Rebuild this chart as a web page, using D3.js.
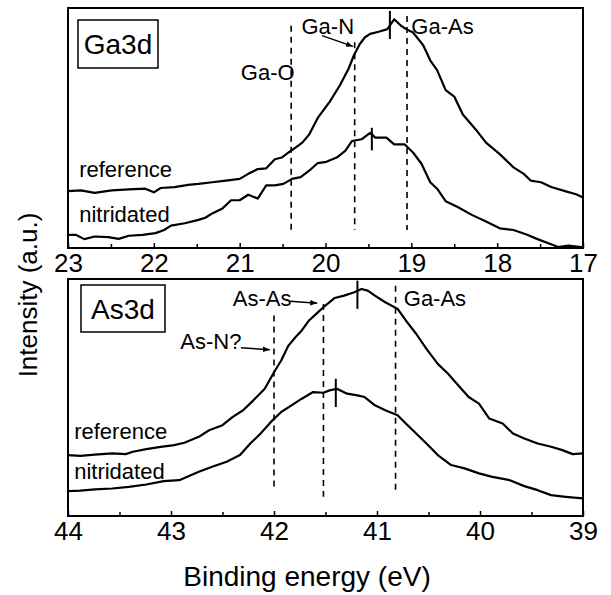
<!DOCTYPE html>
<html>
<head>
<meta charset="utf-8">
<script src="https://cdn.jsdelivr.net/npm/d3@7/dist/d3.min.js"></script>
<style>
  body { margin: 0; background: #fff; }
  svg { display: block; font-family: Arial, "Liberation Sans", sans-serif; }
</style>
</head>
<body>
<svg id="chart" width="611" height="595"></svg>
<script>
// Ga3d panel, binding energy (eV) and intensity (a.u., 0-100 of panel height)
const gaRefE = [23.00, 22.85, 22.69, 22.49, 22.29, 22.10, 22.00, 21.92, 21.76, 21.60, 21.48, 21.32, 21.16, 21.00, 20.90, 20.79, 20.69, 20.59, 20.51, 20.43, 20.35, 20.27, 20.19, 20.09, 19.95, 19.83, 19.73, 19.67, 19.60, 19.54, 19.48, 19.38, 19.28, 19.20, 19.12, 19.06, 18.98, 18.86, 18.78, 18.70, 18.60, 18.50, 18.40, 18.25, 18.13, 17.97, 17.81, 17.69, 17.61, 17.49, 17.37, 17.21, 17.08, 17.00];
const gaRefI = [23.7, 24.0, 23.0, 24.0, 24.4, 24.7, 23.2, 25.0, 25.4, 26.3, 26.7, 27.4, 28.1, 28.8, 30.9, 32.9, 33.2, 37.0, 37.7, 39.8, 41.8, 43.9, 47.3, 54.2, 61.0, 67.9, 74.8, 80.2, 85.0, 87.8, 89.2, 90.1, 91.2, 95.3, 92.6, 91.2, 89.8, 84.4, 78.2, 74.1, 65.8, 63.1, 55.6, 49.4, 43.9, 39.1, 33.6, 30.9, 28.1, 27.4, 25.4, 23.7, 22.4, 21.0];
const gaNitE = [23.00, 22.91, 22.81, 22.69, 22.53, 22.41, 22.29, 22.13, 21.98, 21.88, 21.80, 21.64, 21.48, 21.40, 21.32, 21.20, 21.10, 21.00, 20.90, 20.79, 20.69, 20.59, 20.49, 20.39, 20.29, 20.19, 20.09, 19.99, 19.87, 19.77, 19.69, 19.58, 19.48, 19.42, 19.29, 19.20, 19.08, 18.98, 18.88, 18.78, 18.70, 18.60, 18.46, 18.29, 18.13, 17.97, 17.81, 17.65, 17.53, 17.41, 17.29, 17.17, 17.00];
const gaNitI = [5.5, 5.5, 3.7, 4.8, 4.5, 3.8, 5.1, 5.5, 6.2, 7.5, 9.3, 10.3, 11.7, 12.6, 14.4, 16.5, 19.9, 19.9, 22.2, 20.6, 26.1, 26.1, 26.7, 28.8, 29.5, 32.2, 35.4, 35.9, 37.7, 40.5, 44.6, 45.3, 48.0, 46.0, 46.0, 43.2, 43.2, 39.8, 35.0, 27.4, 24.7, 19.5, 17.1, 13.7, 11.0, 8.2, 7.5, 5.5, 3.7, 2.1, 0.4, 1.0, 0.3];

// As3d panel
const asRefE = [44.00, 43.88, 43.74, 43.57, 43.44, 43.37, 43.24, 43.10, 42.97, 42.87, 42.73, 42.63, 42.50, 42.40, 42.30, 42.20, 42.09, 41.99, 41.93, 41.86, 41.79, 41.73, 41.66, 41.59, 41.52, 41.46, 41.41, 41.32, 41.22, 41.15, 41.09, 41.02, 40.92, 40.80, 40.72, 40.62, 40.52, 40.41, 40.31, 40.21, 40.11, 40.01, 39.91, 39.78, 39.68, 39.57, 39.44, 39.31, 39.20, 39.10, 39.00];
const asRefI = [25.7, 25.4, 25.9, 26.4, 26.1, 27.1, 28.2, 29.2, 29.9, 30.9, 33.4, 36.2, 38.3, 41.8, 44.6, 48.8, 53.7, 61.4, 65.6, 71.9, 75.5, 78.3, 82.5, 85.3, 88.1, 90.2, 92.0, 93.0, 94.4, 95.8, 95.1, 93.0, 90.2, 87.4, 82.5, 76.9, 70.5, 64.2, 60.0, 55.1, 50.2, 47.4, 41.1, 39.0, 34.8, 32.7, 30.6, 29.2, 27.8, 26.1, 26.4];
const asNitE = [44.00, 43.88, 43.74, 43.57, 43.41, 43.24, 43.07, 42.92, 42.73, 42.60, 42.46, 42.33, 42.23, 42.13, 42.03, 41.93, 41.83, 41.73, 41.62, 41.52, 41.46, 41.39, 41.29, 41.19, 41.12, 41.02, 40.92, 40.80, 40.72, 40.62, 40.52, 40.41, 40.28, 40.15, 40.01, 39.88, 39.71, 39.57, 39.44, 39.31, 39.17, 39.00];
const asNitI = [10.5, 10.7, 11.2, 11.6, 12.3, 13.3, 14.7, 15.1, 18.7, 20.8, 22.9, 25.7, 30.6, 34.8, 39.7, 43.9, 46.7, 49.5, 52.3, 52.0, 53.0, 53.7, 51.6, 50.9, 50.2, 46.7, 44.6, 42.5, 39.0, 34.8, 30.6, 25.7, 21.5, 20.1, 18.0, 16.5, 15.1, 12.6, 10.9, 8.8, 8.1, 7.4];

// component positions (eV) and peak maxima (eV)
const gaLines = [20.4, 19.66, 19.05];
const gaLineNames = ["Ga-O", "Ga-N", "Ga-As"];
const gaPeaks = [19.25, 19.46];
const asLines = [42.0, 41.52, 40.82];
const asLineNames = ["As-N?", "As-As", "Ga-As"];
const asPeaks = [41.19, 41.40];

const svg = d3.select("#chart");
const left = 68, right = 583;

svg.append("defs").append("marker")
  .attr("id", "arrow")
  .attr("viewBox", "0 0 10 8")
  .attr("refX", 10).attr("refY", 4)
  .attr("markerWidth", 7).attr("markerHeight", 6)
  .attr("markerUnits", "userSpaceOnUse")
  .attr("orient", "auto")
  .append("path").attr("d", "M0,0L10,4L0,8z").attr("fill", "#000");

const panels = [
  {
    name: "Ga3d", domain: [23, 17], top: 8, bottom: 248,
    ref: d3.zip(gaRefE, gaRefI), nit: d3.zip(gaNitE, gaNitI),
    lines: [
      { e: gaLines[0], y1: 92.6, y2: 7.5 },
      { e: gaLines[1], y1: 85.7, y2: 7.5 },
      { e: gaLines[2], y1: 96.7, y2: 7.5 },
    ],
    labels: [
      { t: gaLineNames[0], e: 20.36, i: 70.0, anchor: "end" },
      { t: gaLineNames[1], e: 20.28, i: 89.2, anchor: "start" },
      { t: gaLineNames[2], e: 19.0, i: 89.2, anchor: "start" },
    ],
    arrows: [{ e1: 20.04, i1: 88.5, e2: 19.68, i2: 84.0 }],
    peaks: [{ e: gaPeaks[0], y1: 98.8, y2: 87.1 }, { e: gaPeaks[1], y1: 50.1, y2: 40.7 }],
    series: [{ t: "reference", e: 22.87, i: 29.5 }, { t: "nitridated", e: 22.87, i: 11.0 }],
    box: { x: 78, y: 20, w: 80, h: 48 },
  },
  {
    name: "As3d", domain: [44, 39], top: 279, bottom: 516,
    ref: d3.zip(asRefE, asRefI), nit: d3.zip(asNitE, asNitI),
    lines: [
      { e: asLines[0], y1: 84.6, y2: 10.9 },
      { e: asLines[1], y1: 89.5, y2: 8.1 },
      { e: asLines[2], y1: 97.2, y2: 10.2 },
    ],
    labels: [
      { t: asLineNames[0], e: 42.91, i: 70.5, anchor: "start" },
      { t: asLineNames[1], e: 42.40, i: 88.8, anchor: "start" },
      { t: asLineNames[2], e: 40.74, i: 88.8, anchor: "start" },
    ],
    arrows: [
      { e1: 42.32, i1: 71.0, e2: 42.04, i2: 70.1 },
      { e1: 41.84, i1: 90.6, e2: 41.58, i2: 89.8 },
    ],
    peaks: [{ e: asPeaks[0], y1: 99.3, y2: 87.4 }, { e: asPeaks[1], y1: 57.9, y2: 46.0 }],
    series: [{ t: "reference", e: 43.94, i: 32.7 }, { t: "nitridated", e: 43.94, i: 15.8 }],
    box: { x: 81, y: 285, w: 84, h: 47 },
  },
];

function drawPanel(p) {
  const x = d3.scaleLinear().domain(p.domain).range([left, right]);
  const y = d3.scaleLinear().domain([0, 100]).range([p.bottom, p.top]);
  const g = svg.append("g");

  const major = d3.range(p.domain[1], p.domain[0] + 0.01, 1);
  const minor = d3.range(p.domain[1] + 0.5, p.domain[0], 1);

  const ax = g.append("g")
    .attr("transform", `translate(0,${p.bottom})`)
    .call(d3.axisBottom(x).tickValues(major).tickFormat(d3.format("d")).tickSize(-5).tickPadding(6));
  ax.select(".domain").remove();
  ax.selectAll("line").attr("stroke-width", 1.5);
  ax.selectAll("text").attr("font-size", 26).attr("font-family", "Arial, 'Liberation Sans', sans-serif").attr("fill", "#000");

  const mx = g.append("g")
    .attr("transform", `translate(0,${p.bottom})`)
    .call(d3.axisBottom(x).tickValues(minor).tickFormat("").tickSize(-4));
  mx.select(".domain").remove();
  mx.selectAll("line").attr("stroke-width", 1.5);

  g.append("rect")
    .attr("x", left).attr("y", p.top)
    .attr("width", right - left).attr("height", p.bottom - p.top)
    .attr("fill", "none").attr("stroke", "#000").attr("stroke-width", 2);

  // component positions
  g.selectAll("line.comp")
    .data(p.lines)
    .join("line")
    .attr("class", "comp")
    .attr("x1", (d) => x(d.e)).attr("x2", (d) => x(d.e))
    .attr("y1", (d) => y(d.y1)).attr("y2", (d) => y(d.y2))
    .attr("stroke", "#000").attr("stroke-width", 1.6)
    .attr("stroke-dasharray", "6,5");

  const line = d3.line().x((d) => x(d[0])).y((d) => y(d[1]));
  for (const s of [p.ref, p.nit]) {
    g.append("path")
      .attr("d", line(s))
      .attr("fill", "none").attr("stroke", "#000")
      .attr("stroke-width", 2.2).attr("stroke-linejoin", "round");
  }

  g.selectAll("line.peak")
    .data(p.peaks)
    .join("line")
    .attr("class", "peak")
    .attr("x1", (d) => x(d.e)).attr("x2", (d) => x(d.e))
    .attr("y1", (d) => y(d.y1)).attr("y2", (d) => y(d.y2))
    .attr("stroke", "#000").attr("stroke-width", 2);

  g.selectAll("text.comp")
    .data(p.labels)
    .join("text")
    .attr("class", "comp")
    .attr("x", (d) => x(d.e)).attr("y", (d) => y(d.i))
    .attr("text-anchor", (d) => d.anchor)
    .attr("font-size", 22)
    .text((d) => d.t);

  g.selectAll("line.arrow")
    .data(p.arrows)
    .join("line")
    .attr("class", "arrow")
    .attr("x1", (d) => x(d.e1)).attr("y1", (d) => y(d.i1))
    .attr("x2", (d) => x(d.e2)).attr("y2", (d) => y(d.i2))
    .attr("stroke", "#000").attr("stroke-width", 1.5)
    .attr("marker-end", "url(#arrow)");

  g.selectAll("text.series")
    .data(p.series)
    .join("text")
    .attr("class", "series")
    .attr("x", (d) => x(d.e)).attr("y", (d) => y(d.i))
    .attr("font-size", 22)
    .text((d) => d.t);

  g.append("rect")
    .attr("x", p.box.x).attr("y", p.box.y)
    .attr("width", p.box.w).attr("height", p.box.h)
    .attr("fill", "#fff").attr("stroke", "#000").attr("stroke-width", 1.5);
  g.append("text")
    .attr("x", p.box.x + p.box.w / 2).attr("y", p.box.y + p.box.h / 2 + 10)
    .attr("text-anchor", "middle")
    .attr("font-size", 28)
    .text(p.name);
}

panels.forEach(drawPanel);

svg.append("text")
  .attr("transform", "translate(37,295) rotate(-90)")
  .attr("text-anchor", "middle")
  .attr("font-size", 26)
  .text("Intensity (a.u.)");

svg.append("text")
  .attr("x", 307).attr("y", 586)
  .attr("text-anchor", "middle")
  .attr("font-size", 28)
  .text("Binding energy (eV)");
</script>
</body>
</html>
